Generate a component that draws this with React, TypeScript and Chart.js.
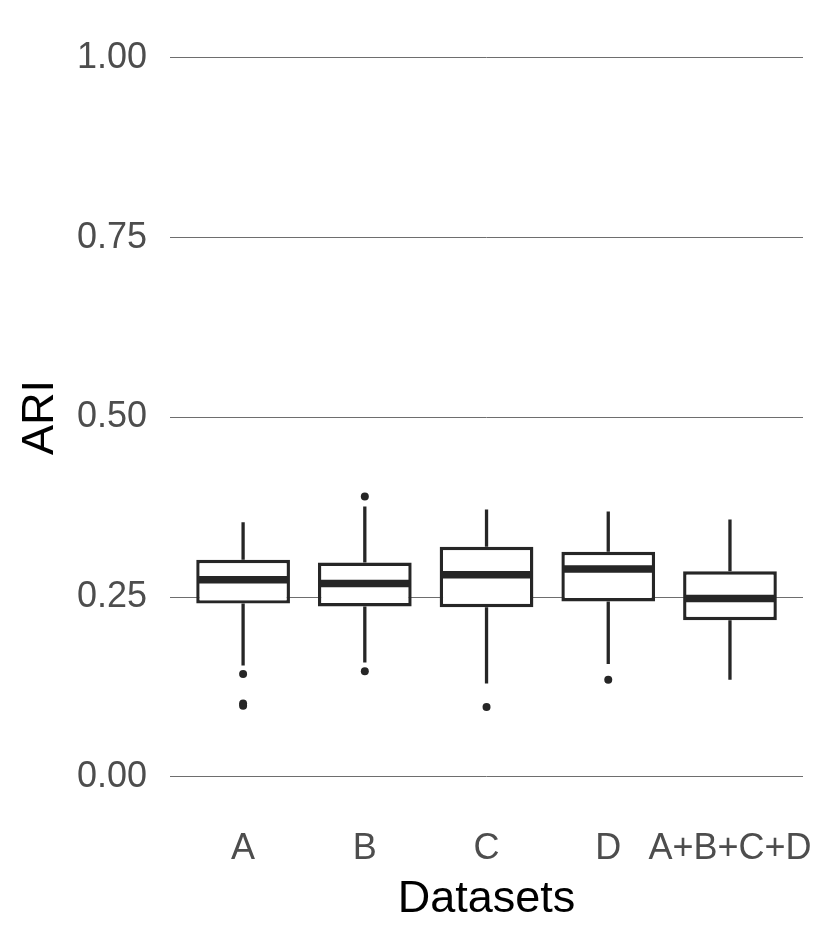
import React, { useEffect, useRef } from "react";
import { Chart, registerables } from "chart.js";

Chart.register(...registerables);

const categories = ["A", "B", "C", "D", "A+B+C+D"];
const whiskerLow = [0.155, 0.159, 0.130, 0.157, 0.135];
const q1 = [0.241, 0.237, 0.236, 0.244, 0.218];
const median = [0.274, 0.269, 0.281, 0.289, 0.248];
const q3 = [0.302, 0.298, 0.320, 0.313, 0.286];
const whiskerHigh = [0.354, 0.376, 0.372, 0.369, 0.358];
const outliers: number[][] = [
  [0.143, 0.102, 0.099],
  [0.147, 0.390],
  [0.097],
  [0.135],
  [],
];
const yTicks = [0, 0.25, 0.5, 0.75, 1.0];

const INK = "#262626";
const BOX_FRACTION = 0.77;
const FONT = "'Liberation Sans', Arial, sans-serif";

export default function App() {
  const ref = useRef<HTMLCanvasElement | null>(null);

  useEffect(() => {
    document.body.style.margin = "0";
    const canvas = ref.current;
    if (!canvas) return;

    const pos = categories.map((_, i) => i + 1);

    const whiskerData: any[] = [];
    pos.forEach((x, i) => {
      whiskerData.push({ x, y: whiskerLow[i] }, { x, y: q1[i] }, { x, y: null });
      whiskerData.push({ x, y: q3[i] }, { x, y: whiskerHigh[i] }, { x, y: null });
    });

    const boxData = pos.map((x, i) => ({ x, y: [q1[i], q3[i]] }));

    const half = BOX_FRACTION / 2;
    const medianData: any[] = [];
    pos.forEach((x, i) => {
      medianData.push({ x: x - half + 0.01, y: median[i] }, { x: x + half - 0.01, y: median[i] }, { x, y: null });
    });

    const outlierData: any[] = [];
    pos.forEach((x, i) => outliers[i].forEach((v) => outlierData.push({ x, y: v })));

    const chart = new Chart(canvas, {
      type: "bar",
      data: {
        datasets: [
          {
            type: "line",
            label: "whiskers",
            data: whiskerData,
            borderColor: INK,
            borderWidth: 3.3,
            borderCapStyle: "butt",
            pointRadius: 0,
            spanGaps: false,
            order: 4,
          } as any,
          {
            type: "bar",
            label: "box",
            data: boxData,
            backgroundColor: "#ffffff",
            borderColor: INK,
            borderWidth: 3.4,
            borderSkipped: false,
            barPercentage: BOX_FRACTION,
            categoryPercentage: 1,
            grouped: false,
            order: 3,
          } as any,
          {
            type: "line",
            label: "median",
            data: medianData,
            borderColor: INK,
            borderWidth: 7.5,
            borderCapStyle: "butt",
            pointRadius: 0,
            spanGaps: false,
            order: 2,
          } as any,
          {
            type: "scatter",
            label: "outliers",
            data: outlierData,
            backgroundColor: INK,
            borderColor: INK,
            pointRadius: 4,
            borderWidth: 0,
            order: 1,
          } as any,
        ],
      },
      options: {
        animation: false,
        responsive: false,
        maintainAspectRatio: false,
        layout: { padding: { left: 0, right: 23, top: 22, bottom: 0 } },
        plugins: {
          legend: { display: false },
          tooltip: { enabled: false },
        },
        scales: {
          x: {
            type: "linear",
            offset: false,
            min: 0.4,
            max: 5.6,
            afterBuildTicks: (axis: any) => {
              axis.ticks = pos.map((v) => ({ value: v }));
            },
            afterFit: (axis: any) => {
              axis.paddingLeft = 0;
              axis.paddingRight = 0;
            },
            grid: { display: false, drawTicks: false },
            border: { display: false },
            ticks: {
              padding: 15,
              color: "#4d4d4d",
              font: { family: FONT, size: 36 },
              maxRotation: 0,
              autoSkip: false,
              callback: (v: any) => categories[Math.round(Number(v)) - 1] ?? "",
            },
            title: {
              display: true,
              text: "Datasets",
              color: "#000000",
              font: { family: FONT, size: 45 },
              padding: { top: -13, bottom: 17 },
            },
          },
          y: {
            type: "linear",
            min: -0.05,
            max: 1.05,
            afterBuildTicks: (axis: any) => {
              axis.ticks = yTicks.map((v) => ({ value: v }));
            },
            afterFit: (axis: any) => {
              axis.paddingTop = 0;
              axis.paddingBottom = 0;
            },
            grid: { color: "#6e6e6e", lineWidth: 1, drawTicks: false },
            border: { display: false },
            ticks: {
              padding: 23,
              color: "#4d4d4d",
              font: { family: FONT, size: 36 },
              callback: (v: any) => Number(v).toFixed(2),
            },
            title: {
              display: true,
              text: "ARI",
              color: "#000000",
              font: { family: FONT, size: 45 },
              padding: { top: 14, bottom: -14 },
            },
          },
        },
      },
    });

    return () => chart.destroy();
  }, []);

  return (
    <div style={{ width: 826, height: 944 }}>
      <canvas ref={ref} width={826} height={944} style={{ display: "block" }} />
    </div>
  );
}
